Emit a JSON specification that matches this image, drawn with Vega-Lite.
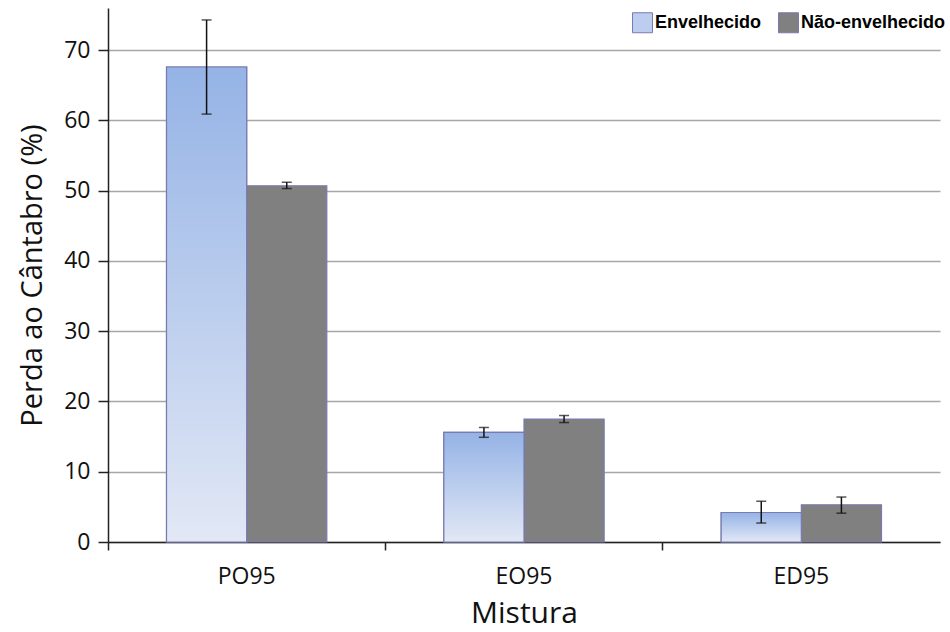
{
  "$schema": "https://vega.github.io/schema/vega-lite/v6.json",
  "width": 832,
  "height": 534,
  "autosize": "none",
  "padding": {"left": 108, "top": 8, "right": 10, "bottom": 90},
  "background": "white",
  "config": {
    "view": {"stroke": null},
    "font": "Open Sans"
  },
  "data": {
    "values": [
      {"mistura": "PO95", "serie": "Envelhecido", "valor": 67.6, "lo": 60.9, "hi": 74.3},
      {"mistura": "PO95", "serie": "Não-envelhecido", "valor": 50.7, "lo": 50.3, "hi": 51.2},
      {"mistura": "EO95", "serie": "Envelhecido", "valor": 15.6, "lo": 14.9, "hi": 16.3},
      {"mistura": "EO95", "serie": "Não-envelhecido", "valor": 17.5, "lo": 17.0, "hi": 18.0},
      {"mistura": "ED95", "serie": "Envelhecido", "valor": 4.2, "lo": 2.7, "hi": 5.8},
      {"mistura": "ED95", "serie": "Não-envelhecido", "valor": 5.3, "lo": 4.1, "hi": 6.4}
    ]
  },
  "encoding": {
    "x": {
      "field": "mistura", "type": "nominal", "sort": ["PO95", "EO95", "ED95"],
      "scale": {"paddingInner": 0, "paddingOuter": 0},
      "axis": {
        "title": "Mistura", "titleFontSize": 30, "titleFontWeight": "normal", "titleColor": "#111",
        "titlePadding": 10,
        "labelFontSize": 23, "labelColor": "#111", "labelAngle": 0, "labelPadding": 15,
        "domainColor": "#222", "domainWidth": 1.5, "tickColor": "#222", "tickSize": 8, "tickWidth": 1.5,
        "bandPosition": 0, "grid": false
      }
    },
    "xOffset": {"field": "serie", "type": "nominal", "sort": ["Envelhecido", "Não-envelhecido"], "scale": {"paddingInner": 0, "paddingOuter": 0.73}}
  },
  "layer": [
    {
      "mark": {"type": "bar", "stroke": "#7a7ab0", "strokeWidth": 1.2},
      "encoding": {
        "y": {
          "field": "valor", "type": "quantitative",
          "scale": {"domain": [0, 76], "nice": false},
          "axis": {
            "title": "Perda ao Cântabro (%)", "titleFontSize": 29, "titleFontWeight": "normal", "titleColor": "#111",
            "titlePadding": 16,
            "values": [0, 10, 20, 30, 40, 50, 60, 70],
            "labelFontSize": 23, "labelColor": "#111", "labelPadding": 8,
            "domainColor": "#222", "domainWidth": 1.5, "tickColor": "#222", "tickSize": 10, "tickWidth": 1.5,
            "grid": true, "gridColor": "#a6a6a6", "gridWidth": 1.5
          }
        },
        "color": {
          "field": "serie", "type": "nominal",
          "scale": {
            "domain": ["Envelhecido", "Não-envelhecido"],
            "range": ["#bccdf0", "#808080"]
          },
          "legend": {
            "title": null, "orient": "none", "legendX": 524, "legendY": 4, "direction": "horizontal",
            "symbolType": "square", "symbolSize": 400, "symbolStrokeColor": "#7a7ab0", "symbolStrokeWidth": 1,
            "symbolOpacity": 1,
            "labelFont": "Liberation Sans", "labelFontSize": 18, "labelFontWeight": "bold", "labelColor": "#000",
            "labelOffset": 2, "columnPadding": 14, "labelLimit": 300
          }
        }
      }
    },
    {
      "transform": [{"filter": "datum.serie === 'Envelhecido'"}],
      "mark": {
        "type": "bar", "stroke": "#7a7ab0", "strokeWidth": 1.2,
        "fill": {"gradient": "linear", "x1": 0, "y1": 0, "x2": 0, "y2": 1, "stops": [{"offset": 0, "color": "#95b3e6"}, {"offset": 1, "color": "#e2e8f5"}]}
      },
      "encoding": {
        "y": {"field": "valor", "type": "quantitative"}
      }
    },
    {
      "mark": {"type": "rule", "color": "#111", "strokeWidth": 1.5},
      "encoding": {
        "y": {"field": "lo", "type": "quantitative"},
        "y2": {"field": "hi"}
      }
    },
    {
      "mark": {"type": "tick", "color": "#111", "thickness": 1.5, "size": 10},
      "encoding": {"y": {"field": "lo", "type": "quantitative"}}
    },
    {
      "mark": {"type": "tick", "color": "#111", "thickness": 1.5, "size": 10},
      "encoding": {"y": {"field": "hi", "type": "quantitative"}}
    }
  ]
}
